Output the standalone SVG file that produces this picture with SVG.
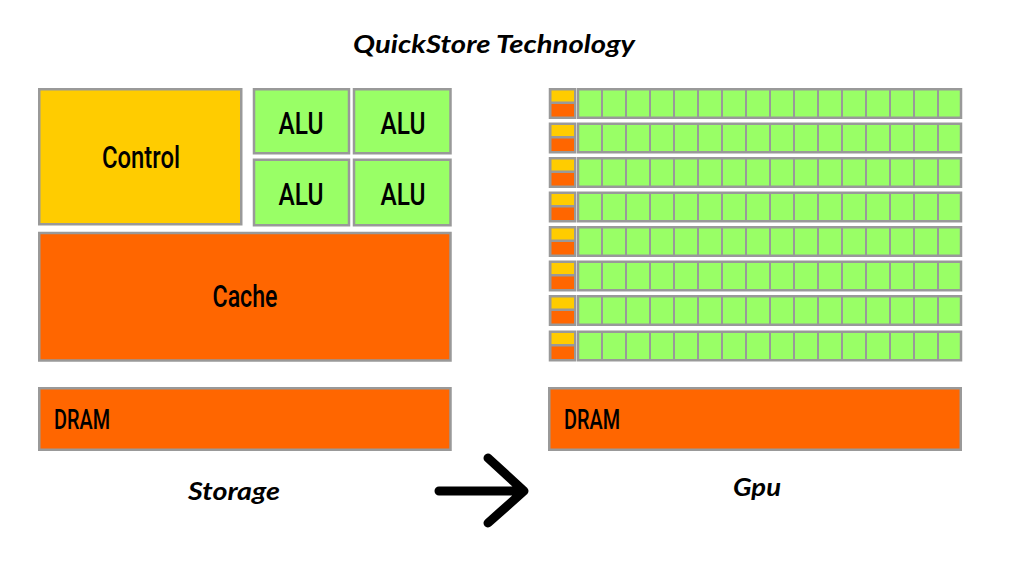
<svg xmlns="http://www.w3.org/2000/svg" xmlns:xlink="http://www.w3.org/1999/xlink" width="1016" height="576" viewBox="0 0 1016 576">
<style>
.box{stroke:#999999;stroke-width:2.5}
.y{fill:#FFCC00}.o{fill:#FF6600}.g{fill:#99FF66}
.lbl{font-family:Roboto,"Liberation Sans",Arial,sans-serif;font-weight:500;fill:#000;text-anchor:middle}
.ttl{font-family:Lato,"Open Sans",sans-serif;font-weight:bold;font-style:italic;fill:#000;text-anchor:middle}
.sep{stroke:#999999;stroke-width:2}
</style>
<defs>
<g id="gpurow">
<rect class="box" x="550" y="1.25" width="25" height="28.5" fill="#999999"/>
<rect class="y" x="551.5" y="2.5" width="22.5" height="11"/>
<rect class="o" x="551.5" y="16" width="22.5" height="12.5"/>
<rect class="box g" x="578" y="1.25" width="383" height="28.5"/>
<path class="sep" d="M602 1v29M626 1v29M650 1v29M674 1v29M698 1v29M722 1v29M746 1v29M770 1v29M794 1v29M818 1v29M842 1v29M866 1v29M890 1v29M914 1v29M938 1v29"/>
</g>
</defs>
<rect width="1016" height="576" fill="#ffffff"/>
<g id="title"><text class="ttl" x="494" y="53" font-size="24" textLength="282" lengthAdjust="spacingAndGlyphs">QuickStore Technology</text></g>
<g id="control"><rect class="box y" x="39.25" y="89.25" width="202" height="135"/><text class="lbl" x="141" y="168" font-size="31" textLength="78" lengthAdjust="spacingAndGlyphs">Control</text></g>
<g id="alu1"><rect class="box g" x="254" y="89.25" width="95" height="64"/><text class="lbl" x="301" y="134" font-size="31" textLength="45" lengthAdjust="spacingAndGlyphs">ALU</text></g>
<g id="alu2"><rect class="box g" x="354" y="89.25" width="96.5" height="64"/><text class="lbl" x="403" y="134" font-size="31" textLength="45" lengthAdjust="spacingAndGlyphs">ALU</text></g>
<g id="alu3"><rect class="box g" x="254" y="159.75" width="95" height="65.5"/><text class="lbl" x="301" y="205" font-size="31" textLength="45" lengthAdjust="spacingAndGlyphs">ALU</text></g>
<g id="alu4"><rect class="box g" x="354" y="159.75" width="96.5" height="65.5"/><text class="lbl" x="403" y="205" font-size="31" textLength="45" lengthAdjust="spacingAndGlyphs">ALU</text></g>
<g id="cache"><rect class="box o" x="39.25" y="233" width="411.25" height="127.5"/><text class="lbl" x="245" y="307" font-size="31" textLength="65" lengthAdjust="spacingAndGlyphs">Cache</text></g>
<g id="dram1"><rect class="box o" x="39.25" y="388.25" width="411.25" height="61.5"/><text class="lbl" x="82" y="429" font-size="27" textLength="56" lengthAdjust="spacingAndGlyphs">DRAM</text></g>
<g id="gpu">
<use xlink:href="#gpurow" y="88"/>
<use xlink:href="#gpurow" y="122.5"/>
<use xlink:href="#gpurow" y="157"/>
<use xlink:href="#gpurow" y="191.5"/>
<use xlink:href="#gpurow" y="226"/>
<use xlink:href="#gpurow" y="260.5"/>
<use xlink:href="#gpurow" y="295"/>
<use xlink:href="#gpurow" y="330.5"/>
</g>
<g id="dram2"><rect class="box o" x="549.25" y="388.25" width="411.5" height="61.5"/><text class="lbl" x="592" y="429" font-size="27" textLength="56" lengthAdjust="spacingAndGlyphs">DRAM</text></g>
<g id="storage-label"><text class="ttl" x="234" y="500" font-size="25" textLength="92" lengthAdjust="spacingAndGlyphs">Storage</text></g>
<g id="gpu-label"><text class="ttl" x="757" y="496" font-size="25" textLength="48" lengthAdjust="spacingAndGlyphs">Gpu</text></g>
<g id="connectors"><path d="M439 491H523M488 458L524 491L488 523" fill="none" stroke="#000" stroke-width="9" stroke-linecap="round" stroke-linejoin="round"/></g>
</svg>
